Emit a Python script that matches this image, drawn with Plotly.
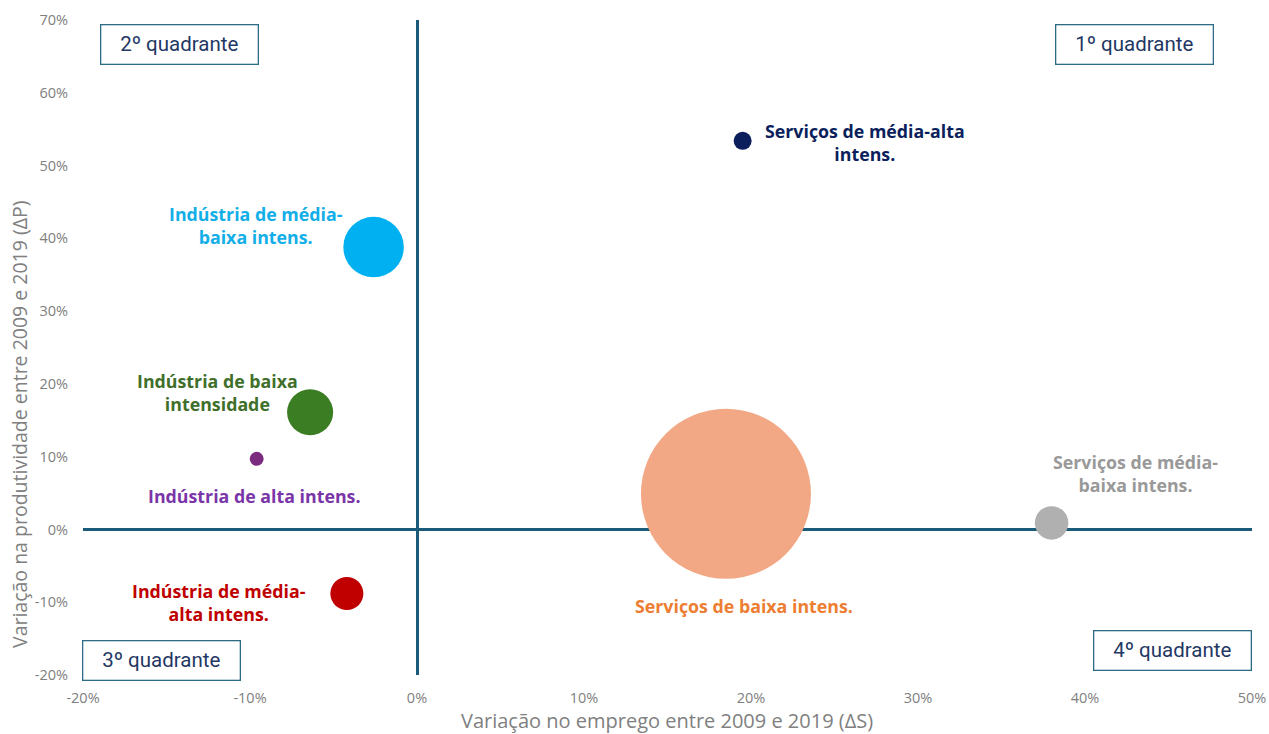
import plotly.graph_objects as go

# ---------------- data ----------------
setores = [
    "Serviços de média-alta<br>intens.",
    "Indústria de média-<br>baixa intens.",
    "Indústria de baixa<br>intensidade",
    "Indústria de alta intens.",
    "Indústria de média-<br>alta intens.",
    "Serviços de baixa intens.",
    "Serviços de média-<br>baixa intens.",
]
var_emprego = [19.5, -2.6, -6.4, -9.6, -4.2, 18.5, 38.0]        # ΔS (%)
var_produtividade = [53.4, 38.8, 16.1, 9.7, -8.8, 4.9, 0.9]     # ΔP (%)
peso = [1.1, 12.4, 7.2, 0.66, 3.7, 98.0, 3.8]                   # bubble weight

x_ticks = [-20, -10, 0, 10, 20, 30, 40, 50]
x_tick_labels = ["-20%", "-10%", "0%", "10%", "20%", "30%", "40%", "50%"]
y_ticks = [-20, -10, 0, 10, 20, 30, 40, 50, 60, 70]
y_tick_labels = ["-20%", "-10%", "0%", "10%", "20%", "30%", "40%", "50%", "60%", "70%"]
quadrantes = ["1º quadrante", "2º quadrante", "3º quadrante", "4º quadrante"]
x_title = "Variação no emprego entre 2009 e 2019 (ΔS)"
y_title = "Variação na produtividade entre 2009 e 2019 (ΔP)"

# ---------------- styles ----------------
bubble_colors = ["#0b1f5c", "#00b0f0", "#3a7d22", "#7b2b7f", "#c00000", "#f2a884", "#b0b0b0"]
text_colors = ["#0b1f5c", "#12aee8", "#3f6f2a", "#7a35a8", "#c00000", "#ed7d31", "#999999"]
label_shift = [(122, -2), (-118, 22), (-93, 20), (-3, -37), (-128, -9), (18, -112), (84, 49)]

max_diam = 170
sizeref = 2.0 * max(peso) / (max_diam ** 2)

W, H = 1269, 734
L, R, T, B = 83, 1252, 20, 675          # plot area in window pixels


def px(xp):
    return (xp - L) / (R - L)


def py(yp):
    return (B - yp) / (B - T)


fig = go.Figure()
for i in range(len(setores)):
    fig.add_trace(go.Scatter(
        x=[var_emprego[i]], y=[var_produtividade[i]],
        mode="markers",
        marker=dict(size=[peso[i]], sizemode="area", sizeref=sizeref,
                    color=bubble_colors[i], opacity=1, line=dict(width=0)),
        name=setores[i].replace("<br>", " "),
        hoverinfo="skip",
        showlegend=False,
    ))

annotations = []
for i in range(len(setores)):
    dx, dy = label_shift[i]
    annotations.append(dict(
        x=var_emprego[i], y=var_produtividade[i], xref="x", yref="y",
        text="<b>" + setores[i] + "</b>", showarrow=False,
        xshift=dx, yshift=dy, align="center",
        font=dict(family="Open Sans, sans-serif", size=17.8, color=text_colors[i]),
    ))

BW, BH = 158, 40
boxes = [
    (quadrantes[0], 1055, 24),
    (quadrantes[1], 100, 24),
    (quadrantes[2], 82, 640),
    (quadrantes[3], 1093, 630),
]
for txt, bx, by in boxes:
    annotations.append(dict(
        x=px(bx), y=py(by), xref="paper", yref="paper",
        xanchor="left", yanchor="top",
        text=txt, showarrow=False, align="center", valign="middle",
        width=BW - 8, height=BH - 8, borderpad=3,
        bordercolor="#2e6b84", borderwidth=1.3, bgcolor="white",
        font=dict(family="Roboto, sans-serif", size=20.5, color="#1f3864"),
    ))

# axis titles (placed as text, where the reference has them)
annotations.append(dict(
    x=px(19), y=py(424), xref="paper", yref="paper",
    xanchor="center", yanchor="middle", textangle=-90,
    text=y_title, showarrow=False,
    font=dict(family="Open Sans, sans-serif", size=19.5, color="#808080"),
))
annotations.append(dict(
    x=px(667), y=py(720), xref="paper", yref="paper",
    xanchor="center", yanchor="middle",
    text=x_title, showarrow=False,
    font=dict(family="Open Sans, sans-serif", size=20, color="#808080"),
))

axis_common = dict(
    showgrid=False, showline=False, ticks="", automargin=False,
    zeroline=True, zerolinecolor="#1b5a78", zerolinewidth=3,
    ticklabeloverflow="allow",
    tickfont=dict(family="Open Sans, sans-serif", size=14.5, color="#808080"),
)

fig.update_layout(
    width=W, height=H,
    margin=dict(l=L, r=W - R, t=T, b=H - B),
    paper_bgcolor="white", plot_bgcolor="white",
    xaxis=dict(range=[-20, 50], tickvals=x_ticks, ticktext=x_tick_labels,
               ticklabelstandoff=12, **axis_common),
    yaxis=dict(range=[-20, 70], tickvals=y_ticks, ticktext=y_tick_labels,
               ticklabelstandoff=14, **axis_common),
    annotations=annotations,
    showlegend=False,
)

# remove the browser's default 8px page margin so the figure fills the window
fig.write_html(
    "out.html",
    config={"displayModeBar": False},
    post_script="document.body.style.margin='0';document.body.style.overflow='hidden';",
)
